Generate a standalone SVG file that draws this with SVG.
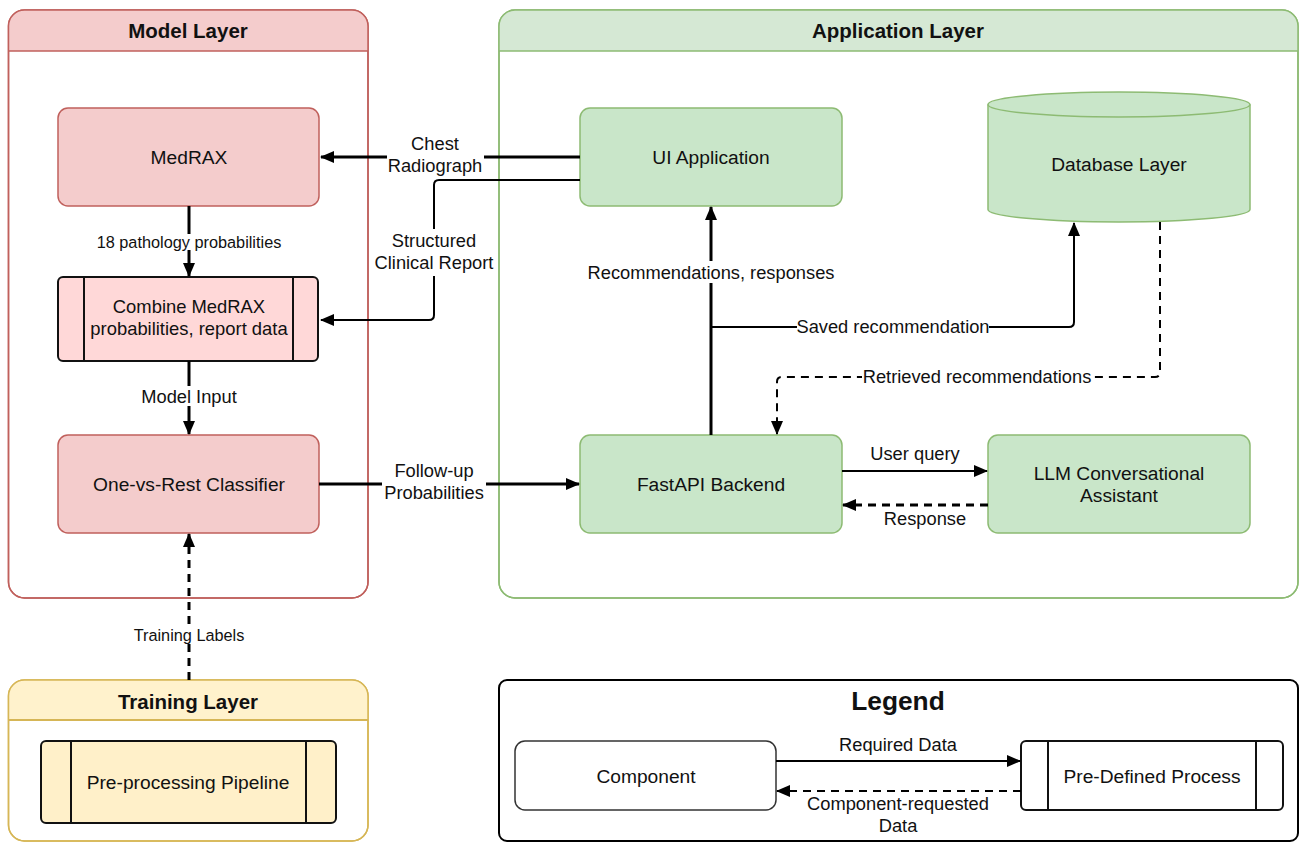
<svg xmlns="http://www.w3.org/2000/svg" width="1299" height="842" viewBox="0 0 1299 842">
<style>
text{font-family:"Liberation Sans",Arial,sans-serif;fill:#111;text-anchor:middle;dominant-baseline:central}
.title{font-weight:bold;font-size:20.5px}
.node{font-size:19.2px}
.nodes{font-size:18.4px}
.lbl{font-size:18.3px}
.sm{font-size:16.3px}
.redc{fill:#fff;stroke:#c0605c;stroke-width:1.5}
.grnc{fill:#fff;stroke:#8dbb73;stroke-width:1.5}
.ylwc{fill:#fff;stroke:#d6b656;stroke-width:1.5}
.rnode{fill:#f4cccc;stroke:#c0605c;stroke-width:1.5}
.gnode{fill:#c9e6c9;stroke:#8dbb73;stroke-width:1.5}
.proc{stroke:#111;stroke-width:2}
.c{fill:none;stroke:#000}
.t3{stroke-width:3}
.t2{stroke-width:2}
.d{stroke-dasharray:8,6}
.bg{fill:#fff}
</style>
<defs>
<marker id="ah" markerUnits="userSpaceOnUse" markerWidth="14" markerHeight="12" refX="13" refY="6" orient="auto">
<path d="M0,0 L14,6 L0,12 z" fill="#000"/>
</marker>
</defs>
<rect width="1299" height="842" fill="#fff"/>

<g id="model-layer">
<rect class="redc" x="8.5" y="10" width="359.5" height="588" rx="16"/>
<path d="M8.5,51 V26 A16,16 0 0 1 24.5,10 H352 A16,16 0 0 1 368,26 V51 Z" fill="#f4cccc"/>
<rect x="8.5" y="10" width="359.5" height="588" rx="16" fill="none" stroke="#c0605c" stroke-width="1.5"/>
<line x1="8.5" y1="51" x2="368" y2="51" stroke="#c0605c" stroke-width="1.5"/>
<text class="title" x="188" y="30">Model Layer</text>
</g>

<g id="application-layer">
<rect class="grnc" x="499" y="10" width="799" height="588" rx="16"/>
<path d="M499,51 V26 A16,16 0 0 1 515,10 H1282 A16,16 0 0 1 1298,26 V51 Z" fill="#d5e8d4"/>
<rect x="499" y="10" width="799" height="588" rx="16" fill="none" stroke="#8dbb73" stroke-width="1.5"/>
<line x1="499" y1="51" x2="1298" y2="51" stroke="#8dbb73" stroke-width="1.5"/>
<text class="title" x="898" y="30">Application Layer</text>
</g>

<g id="training-layer">
<rect class="ylwc" x="8.5" y="680" width="359.5" height="161" rx="16"/>
<path d="M8.5,720 V696 A16,16 0 0 1 24.5,680 H352 A16,16 0 0 1 368,696 V720 Z" fill="#fff2cc"/>
<rect x="8.5" y="680" width="359.5" height="161" rx="16" fill="none" stroke="#d6b656" stroke-width="1.5"/>
<line x1="8.5" y1="720" x2="368" y2="720" stroke="#d6b656" stroke-width="2"/>
<text class="title" x="188" y="701">Training Layer</text>
</g>

<g id="legend">
<rect x="499" y="680" width="799" height="161" rx="8" fill="#fff" stroke="#000" stroke-width="2"/>
<text x="898" y="701" font-weight="bold" font-size="26.3">Legend</text>
</g>

<g id="medrax">
<rect class="rnode" x="58" y="108" width="261" height="98" rx="10"/>
<text class="node" x="189" y="157">MedRAX</text>
</g>

<g id="combine">
<rect class="proc" x="58" y="277" width="260" height="84" rx="5" fill="#ffd8d8"/>
<line class="proc" x1="84" y1="277" x2="84" y2="361"/>
<line class="proc" x1="293" y1="277" x2="293" y2="361"/>
<text class="nodes" x="189" y="306">Combine MedRAX</text>
<text class="nodes" x="189" y="328">probabilities, report data</text>
</g>

<g id="ovr">
<rect class="rnode" x="58" y="435" width="261" height="98" rx="10"/>
<text class="node" x="189" y="484">One-vs-Rest Classifier</text>
</g>

<g id="preprocessing">
<rect class="proc" x="41" y="741" width="295" height="82" rx="5" fill="#fff0c9"/>
<line class="proc" x1="71" y1="741" x2="71" y2="823"/>
<line class="proc" x1="306" y1="741" x2="306" y2="823"/>
<text class="node" x="188" y="782">Pre-processing Pipeline</text>
</g>

<g id="ui-app">
<rect class="gnode" x="580" y="108" width="262" height="98" rx="10"/>
<text class="node" x="711" y="157">UI Application</text>
</g>

<g id="database">
<path class="gnode" d="M988,104.5 A131,12.5 0 0 1 1250,104.5 V209.5 A131,12.5 0 0 1 988,209.5 Z"/>
<path d="M988,104.5 A131,12.5 0 0 0 1250,104.5" fill="none" stroke="#8dbb73" stroke-width="1.5"/>
<text class="node" x="1119" y="164">Database Layer</text>
</g>

<g id="fastapi">
<rect class="gnode" x="580" y="435" width="262" height="98" rx="10"/>
<text class="node" x="711" y="484">FastAPI Backend</text>
</g>

<g id="llm">
<rect class="gnode" x="988" y="435" width="262" height="98" rx="10"/>
<text class="node" x="1119" y="473">LLM Conversational</text>
<text class="node" x="1119" y="495">Assistant</text>
</g>

<g id="legend-component">
<rect x="515" y="741" width="261" height="69" rx="10" fill="#fff" stroke="#333" stroke-width="1.5"/>
<text class="node" x="646" y="776">Component</text>
</g>

<g id="legend-process">
<rect class="proc" x="1021" y="741" width="262" height="69" rx="5" fill="#fff"/>
<line class="proc" x1="1048" y1="741" x2="1048" y2="810"/>
<line class="proc" x1="1256" y1="741" x2="1256" y2="810"/>
<text class="node" x="1152" y="776">Pre-Defined Process</text>
</g>

<g id="connectors">
<path class="c t3" d="M580,157 H321" marker-end="url(#ah)"/>
<rect class="bg" x="387" y="131" width="97" height="45"/>
<text class="lbl" x="435" y="143">Chest</text>
<text class="lbl" x="435" y="165">Radiograph</text>

<path class="c t2" d="M580,180 H439 Q434,180 434,185 V315 Q434,320 429,320 H321" marker-end="url(#ah)"/>
<rect class="bg" x="373" y="229" width="122" height="47"/>
<text class="lbl" x="434" y="240">Structured</text>
<text class="lbl" x="434" y="262">Clinical Report</text>

<path class="c t3" d="M189,206 V276" marker-end="url(#ah)"/>
<rect class="bg" x="95" y="234" width="188" height="16"/>
<text class="sm" x="189" y="242">18 pathology probabilities</text>

<path class="c t3" d="M189,361 V434" marker-end="url(#ah)"/>
<rect class="bg" x="138" y="386" width="102" height="20"/>
<text class="lbl" x="189" y="396">Model Input</text>

<path class="c t3 d" d="M189,680 V534" marker-end="url(#ah)"/>
<rect class="bg" x="132" y="627" width="113" height="16"/>
<text class="sm" x="189" y="635">Training Labels</text>

<path class="c t3" d="M319,484 H579" marker-end="url(#ah)"/>
<rect class="bg" x="382" y="458" width="104" height="46"/>
<text class="lbl" x="434" y="470">Follow-up</text>
<text class="lbl" x="434" y="492">Probabilities</text>

<path class="c t3" d="M711,435 V207" marker-end="url(#ah)"/>
<rect class="bg" x="585" y="261" width="252" height="22"/>
<text class="lbl" x="711" y="272">Recommendations, responses</text>

<path class="c t2" d="M711,327 H1069 Q1074,327 1074,322 V223" marker-end="url(#ah)"/>
<rect class="bg" x="797" y="317" width="192" height="20"/>
<text class="lbl" x="893" y="326">Saved recommendation</text>

<path class="c t2 d" d="M1160,222 V372 Q1160,377 1155,377 H782 Q777,377 777,382 V434" marker-end="url(#ah)"/>
<rect class="bg" x="862" y="367" width="231" height="20"/>
<text class="lbl" x="977" y="376">Retrieved recommendations</text>

<path class="c t2" d="M842,471 H987" marker-end="url(#ah)"/>
<text class="lbl" x="915" y="453">User query</text>

<path class="c t3 d" d="M988,505 H843" marker-end="url(#ah)"/>
<text class="lbl" x="925" y="518">Response</text>

<path class="c t2" d="M776,761 H1020" marker-end="url(#ah)"/>
<text class="lbl" x="898" y="744">Required Data</text>

<path class="c t2 d" d="M1021,791 H777" marker-end="url(#ah)"/>
<text class="lbl" x="898" y="803">Component-requested</text>
<text class="lbl" x="898" y="825">Data</text>
</g>
</svg>
